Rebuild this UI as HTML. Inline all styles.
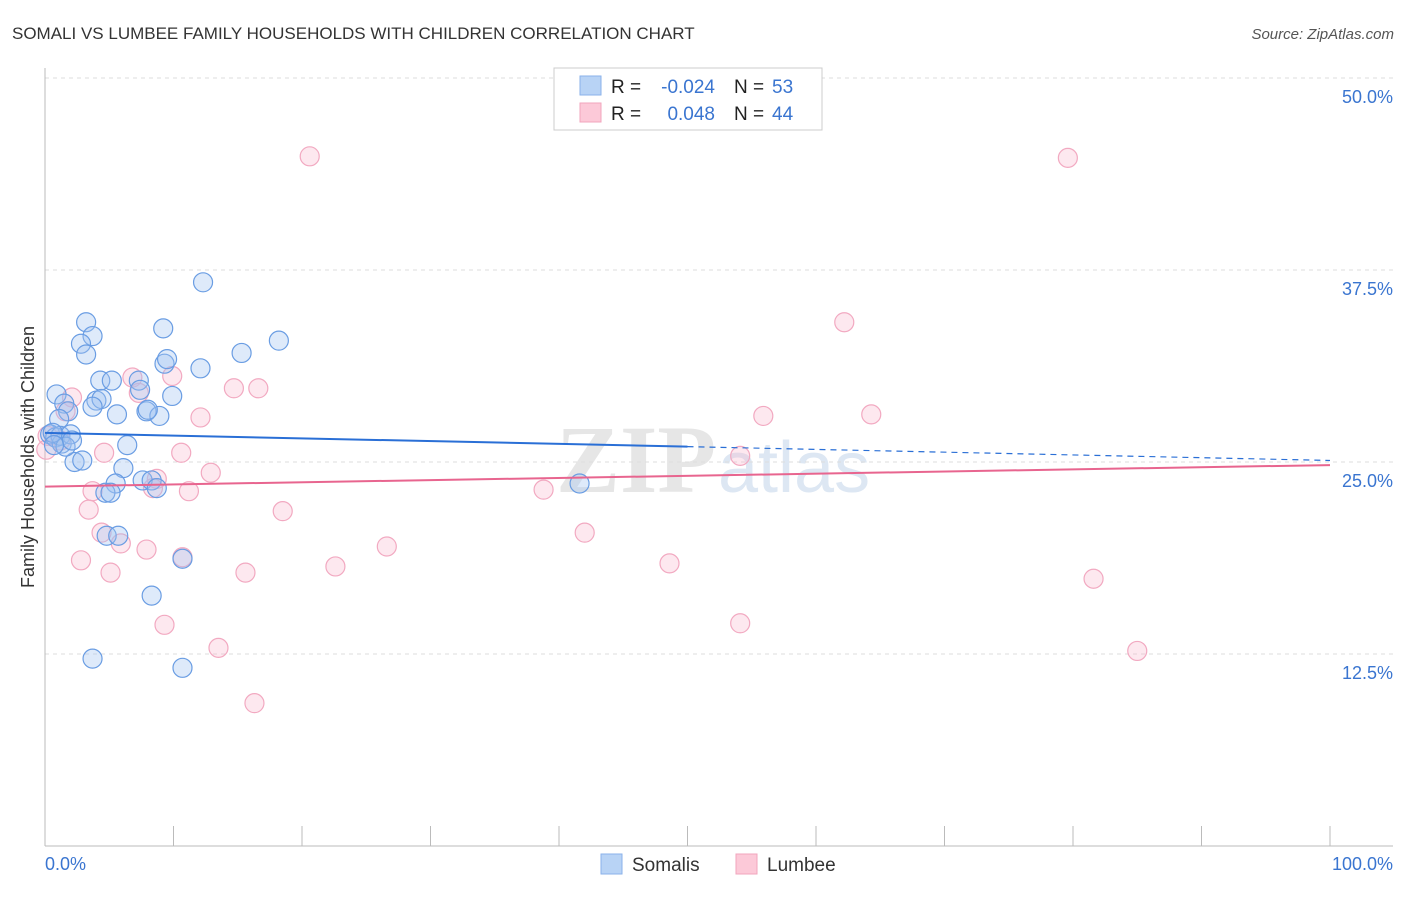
<!DOCTYPE html>
<html><head><meta charset="utf-8"><style>
body{margin:0;background:#fff;font-family:"Liberation Sans",sans-serif;}
</style></head><body>
<svg id="chart" width="1406" height="892" xmlns="http://www.w3.org/2000/svg">
<text x="12" y="39" font-size="17" fill="#333">SOMALI VS LUMBEE FAMILY HOUSEHOLDS WITH CHILDREN CORRELATION CHART</text>
<text x="1394" y="39" font-size="15" fill="#555" font-style="italic" text-anchor="end">Source: ZipAtlas.com</text>
<text x="556" y="492" font-size="96" fill="#e6e6e6" font-family="Liberation Serif,serif" font-weight="bold">ZIP</text>
<text x="718" y="492" font-size="72" fill="#dde7f3">atlas</text>
<g id="grid"></g>
<line x1="45" y1="68" x2="45" y2="846" stroke="#bbb"/>
<line x1="45" y1="846" x2="1393" y2="846" stroke="#bbb"/>
<text transform="translate(34,457) rotate(-90)" font-size="18" fill="#333" text-anchor="middle">Family Households with Children</text>
<text x="45" y="870" font-size="18" fill="#3a75d0">0.0%</text>
<text x="1393" y="870" font-size="18" fill="#3a75d0" text-anchor="end">100.0%</text>
<g id="points"></g>
<g id="trends"></g>
<g>
<rect x="554" y="68" width="268" height="62" fill="#fff" stroke="#ccc"/>
<rect x="580" y="76" width="21" height="19" fill="#b8d3f5" stroke="#8ab2ea"/>
<rect x="580" y="103" width="21" height="19" fill="#fcc9d8" stroke="#f2a5bd"/>
<text x="611" y="93" font-size="19" fill="#222">R =</text>
<text x="715" y="93" font-size="19" fill="#3a75d0" text-anchor="end">-0.024</text>
<text x="734" y="93" font-size="19" fill="#222">N =</text>
<text x="772" y="93" font-size="19" fill="#3a75d0">53</text>
<text x="611" y="120" font-size="19" fill="#222">R =</text>
<text x="715" y="120" font-size="19" fill="#3a75d0" text-anchor="end">0.048</text>
<text x="734" y="120" font-size="19" fill="#222">N =</text>
<text x="772" y="120" font-size="19" fill="#3a75d0">44</text>
</g>
<g>
<rect x="601" y="854" width="21" height="20" fill="#b8d3f5" stroke="#8ab2ea"/>
<text x="632" y="871" font-size="19" fill="#333">Somalis</text>
<rect x="736" y="854" width="21" height="20" fill="#fcc9d8" stroke="#f2a5bd"/>
<text x="767" y="871" font-size="19" fill="#333">Lumbee</text>
</g>
</svg>
<script>
const yTicks=[12.5,25,37.5,50];
const xTickCount=11;
const somaliX=[12.3,3.2,9.2,18.2,3.7,2.8,3.2,9.3,15.3,9.5,12.1,4.3,5.2,7.3,7.4,0.9,9.9,4.0,1.5,4.4,3.7,5.6,7.9,8.9,1.8,1.1,0.4,0.8,1.3,6.4,2.3,2.9,6.1,1.2,5.5,7.6,4.7,5.1,8.3,8.7,41.6,4.8,5.7,10.7,8.3,3.7,10.7,2.0,0.6,1.6,2.1,0.7,8.0];
const somaliY=[36.7,34.1,33.7,32.9,33.2,32.7,32.0,31.4,32.1,31.7,31.1,30.3,30.3,30.3,29.7,29.4,29.3,29.0,28.8,29.1,28.6,28.1,28.3,28.0,28.3,27.8,26.8,26.6,26.2,26.1,25.0,25.1,24.6,26.7,23.6,23.8,23.0,23.0,23.8,23.3,23.6,20.2,20.2,18.7,16.3,12.2,11.6,26.8,26.9,26.0,26.4,26.1,28.4];
const lumbeeX=[20.6,79.6,62.2,9.9,6.8,7.3,14.7,16.6,55.9,64.3,12.1,2.1,0.2,1.2,10.6,4.6,12.9,54.1,3.7,11.2,8.7,8.4,38.8,18.5,3.4,4.4,42.0,5.9,26.6,7.9,10.7,2.8,5.1,15.6,22.6,48.6,81.6,9.3,54.1,13.5,85.0,16.3,0.1,1.6];
const lumbeeY=[44.9,44.8,34.1,30.6,30.5,29.5,29.8,29.8,28.0,28.1,27.9,29.2,26.7,26.4,25.6,25.6,24.3,25.4,23.1,23.1,23.9,23.3,23.2,21.8,21.9,20.4,20.4,19.7,19.5,19.3,18.8,18.6,17.8,17.8,18.2,18.4,17.4,14.4,14.5,12.9,12.7,9.3,25.8,28.3];
const somaliTrend=[26.9,25.1];
const lumbeeTrend=[23.4,24.8];
const NS='http://www.w3.org/2000/svg';
const X=v=>45+v/100*1285;
const Y=v=>846-v/50*768;
function mk(t,a,p){const e=document.createElementNS(NS,t);for(const k in a)e.setAttribute(k,a[k]);p.appendChild(e);return e;}
const grid=document.getElementById('grid');
yTicks.forEach(t=>{
  const l=mk('line',{x1:45,x2:1393,y1:Y(t),y2:Y(t),stroke:'#ddd','stroke-dasharray':'4,4'},grid);
  
  
  const tx=mk('text',{x:1393,y:Y(t)+25,'font-size':18,fill:'#3a75d0','text-anchor':'end'},grid);
  tx.textContent=t.toFixed(1)+'%';
  
  
});
for(let i=0;i<xTickCount;i++){
  const v=i*100/(xTickCount-1);
  const l=mk('line',{x1:X(v),x2:X(v),y1:826,y2:846,stroke:'#bbb'},grid);
  
  
}
const pts=document.getElementById('points');
lumbeeX.forEach((v,i)=>{
  const c=mk('circle',{cx:X(v),cy:Y(lumbeeY[i]),r:9.5,fill:'rgba(248,180,202,0.3)',stroke:'#f2a9c1','stroke-width':1.2},pts);
  
  
});
somaliX.forEach((v,i)=>{
  const c=mk('circle',{cx:X(v),cy:Y(somaliY[i]),r:9.5,fill:'rgba(160,196,240,0.35)',stroke:'#6a9de3','stroke-width':1.2},pts);
  
  
});
const tr=document.getElementById('trends');
const sAt=x=>somaliTrend[0]+(somaliTrend[1]-somaliTrend[0])*x/100;
let l1=mk('line',{x1:X(0),y1:Y(sAt(0)),x2:X(50),y2:Y(sAt(50)),stroke:'#2a6fd6','stroke-width':2},tr);


let l2=mk('line',{x1:X(50),y1:Y(sAt(50)),x2:X(100),y2:Y(sAt(100)),stroke:'#2a6fd6','stroke-width':1.2,'stroke-dasharray':'6,5'},tr);


let l3=mk('line',{x1:X(0),y1:Y(lumbeeTrend[0]),x2:X(100),y2:Y(lumbeeTrend[1]),stroke:'#e8658f','stroke-width':2},tr);


</script>
</body></html>
